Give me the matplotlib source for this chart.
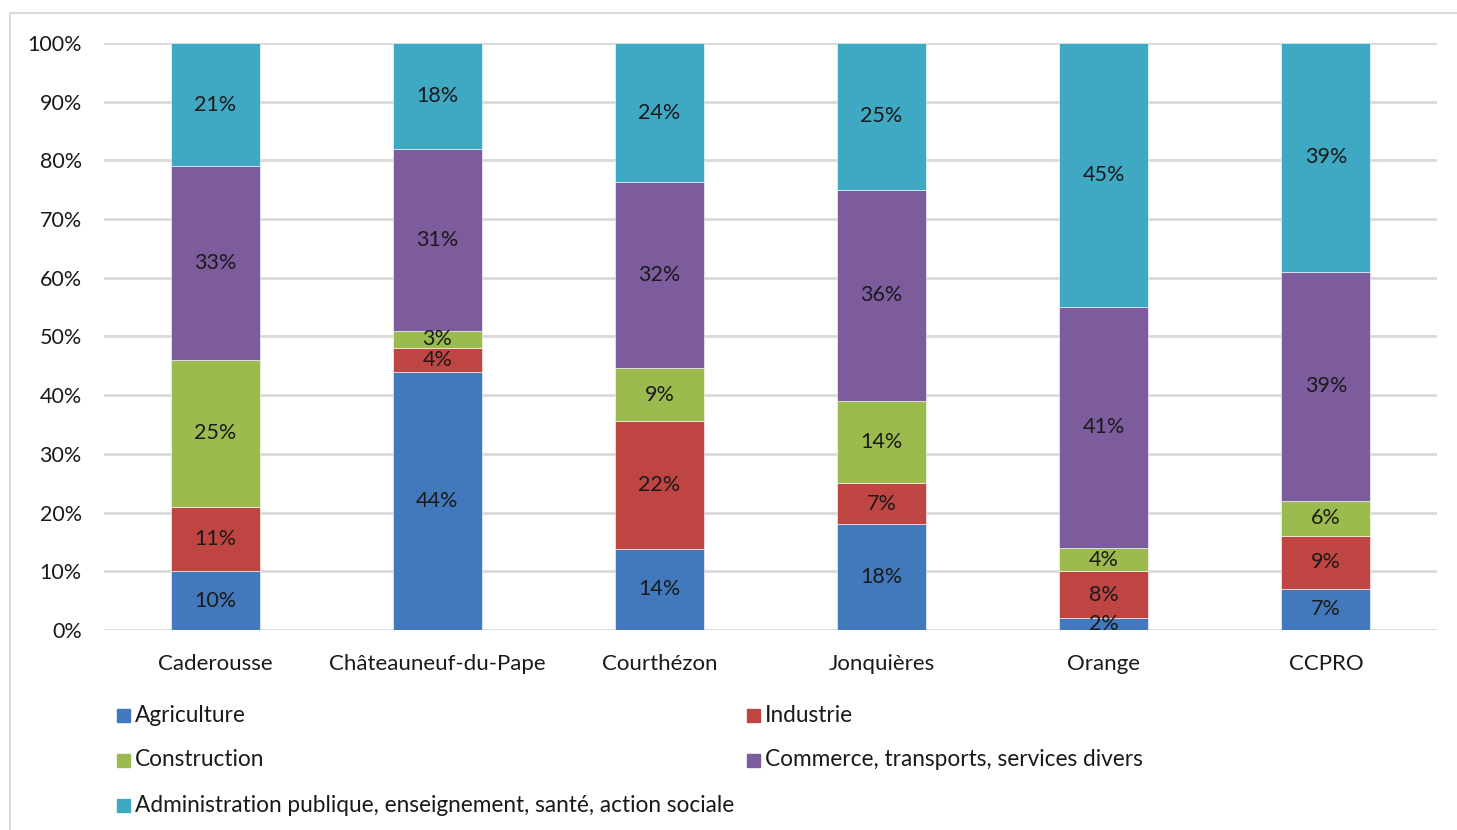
import matplotlib.pyplot as plt
import numpy as np
from matplotlib.patches import Rectangle

plt.rcParams['font.family'] = ['Lato', 'DejaVu Sans']

communes = ["Caderousse", "Châteauneuf-du-Pape", "Courthézon", "Jonquières", "Orange", "CCPRO"]
secteurs = ["Agriculture", "Industrie", "Construction",
            "Commerce, transports, services divers",
            "Administration publique, enseignement, santé, action sociale"]
couleurs = ["#4279BC", "#BF4543", "#9CBB4F", "#7D5C9E", "#3FA8C3"]

# part de l'emploi par secteur (%)
agriculture = [10, 44, 14, 18, 2, 7]
industrie = [11, 4, 22, 7, 8, 9]
construction = [25, 3, 9, 14, 4, 6]
commerce = [33, 31, 32, 36, 41, 39]
administration = [21, 18, 24, 25, 45, 39]

series = np.array([agriculture, industrie, construction, commerce, administration], dtype=float)
parts = series / series.sum(axis=0)  # empilement a 100 %

fig = plt.figure(figsize=(14.57, 8.3), dpi=100)
ax = fig.add_axes([104 / 1457, 1 - 630 / 830, (1437 - 104) / 1457, (630 - 43) / 830])

x = np.arange(len(communes))
bas = np.zeros(len(communes))
for vals, pct, coul in zip(parts, series, couleurs):
    ax.bar(x, vals, 0.4, bottom=bas, color=coul, edgecolor="white", linewidth=0.4, zorder=3)
    for xi, b, v, p in zip(x, bas, vals, pct):
        ax.text(xi, b + v / 2, f"{p:.0f}%", ha="center", va="center",
                fontsize=15.5, color="#1a1a1a", zorder=4)
    bas += vals

ax.set_xlim(-0.5, len(communes) - 0.5)
ax.set_ylim(0, 1)
ax.set_yticks(np.arange(0, 1.01, 0.1))
ax.set_yticklabels([f"{v}%" for v in range(0, 101, 10)])
ax.set_xticks(x)
ax.set_xticklabels(communes)
ax.tick_params(axis="both", length=0, colors="#1a1a1a")
ax.tick_params(axis="x", pad=17, labelsize=16)
ax.tick_params(axis="y", pad=16, labelsize=15.5)
ax.grid(axis="y", color="#D9D9D9", linewidth=2, zorder=0)
for s in ax.spines.values():
    s.set_visible(False)

# legende sur deux colonnes
pos = [(117, 715), (117, 760), (117, 805), (747, 715), (747, 760)]
ordre = [0, 2, 4, 1, 3]
for (px, py), i in zip(pos, ordre):
    fig.add_artist(Rectangle((px / 1457, 1 - (py + 7) / 830), 13 / 1457, 13 / 830,
                             transform=fig.transFigure, color=couleurs[i]))
    fig.text((px + 18) / 1457, 1 - py / 830, secteurs[i], ha="left", va="center",
             fontsize=16.3, color="#1a1a1a")

# cadre du graphique
fig.add_artist(Rectangle((10 / 1457, -0.05), 1.1, 1 - 13 / 830 + 0.05,
                         transform=fig.transFigure, fill=False,
                         edgecolor="#D9D9D9", linewidth=1.5))

fig.savefig("out.png", dpi=100)
